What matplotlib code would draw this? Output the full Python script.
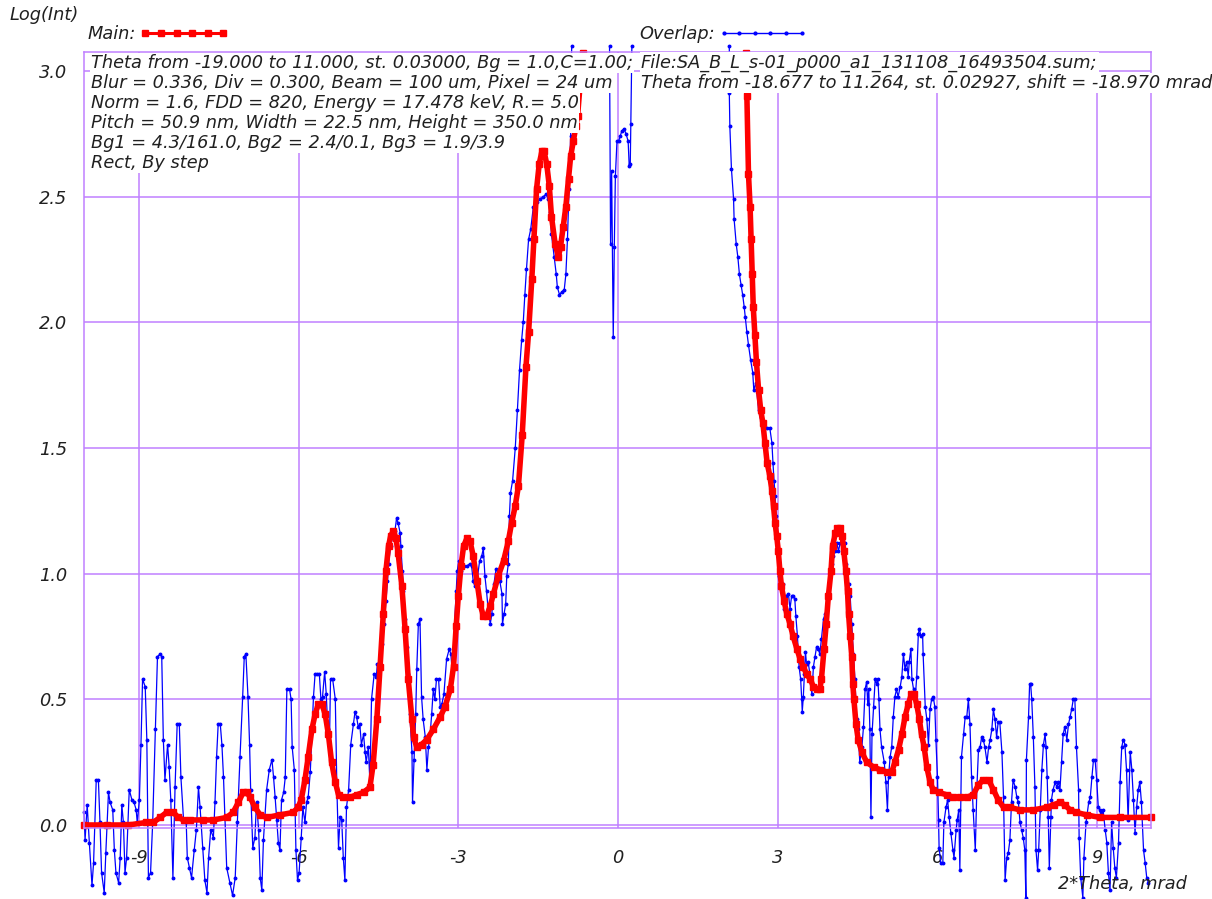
import numpy as np
import matplotlib
matplotlib.use('Agg')
import matplotlib.pyplot as plt
from matplotlib.lines import Line2D
from matplotlib.ticker import FormatStrFormatter

nan = np.nan

# Main (model) curve: 2*Theta [mrad] vs Log(Int); nan = hidden above the frame
main_theta = [
    -10.03, -9.60, -9.20, -8.86, -8.73, -8.60, -8.48, -8.35, -8.26, -8.16,
    -8.04, -7.80, -7.60, -7.35, -7.23, -7.13, -7.04, -6.97, -6.91, -6.82,
    -6.72, -6.60, -6.35, -6.10, -6.01, -5.95, -5.88, -5.82, -5.75, -5.69,
    -5.63, -5.56, -5.50, -5.44, -5.38, -5.31, -5.25, -5.16, -5.03, -4.91,
    -4.78, -4.66, -4.60, -4.53, -4.47, -4.41, -4.36, -4.31, -4.27, -4.22,
    -4.17, -4.13, -4.06, -4.00, -3.94, -3.87, -3.84, -3.78, -3.69, -3.59,
    -3.47, -3.34, -3.25, -3.15, -3.09, -3.04, -3.00, -2.95, -2.90, -2.84,
    -2.78, -2.72, -2.65, -2.59, -2.53, -2.47, -2.40, -2.34, -2.25, -2.15,
    -2.06, -2.00, -1.93, -1.87, -1.80, -1.73, -1.68, -1.62, -1.58, -1.53,
    -1.48, -1.43, -1.39, -1.34, -1.29, -1.25, -1.18, -1.12, -1.08, -1.03,
    -0.98, -0.93, -0.89, -0.84, -0.79, -0.76, -0.71, -0.66, nan, 2.41,
    2.42, 2.45, 2.48, 2.50, 2.52, 2.54, 2.57, 2.60, 2.64, 2.68,
    2.72, 2.76, 2.80, 2.85, 2.89, 2.92, 2.95, 2.98, 3.01, 3.04,
    3.07, 3.12, 3.17, 3.23, 3.29, 3.36, 3.42, 3.48, 3.54, 3.61,
    3.67, 3.73, 3.79, 3.82, 3.87, 3.91, 3.95, 4.00, 4.03, 4.08,
    4.12, 4.17, 4.21, 4.24, 4.28, 4.31, 4.33, 4.36, 4.39, 4.41,
    4.43, 4.47, 4.51, 4.58, 4.67, 4.80, 4.92, 5.05, 5.14, 5.20,
    5.27, 5.33, 5.39, 5.45, 5.51, 5.56, 5.61, 5.66, 5.70, 5.75,
    5.80, 5.86, 5.92, 6.02, 6.17, 6.30, 6.42, 6.55, 6.67, 6.77,
    6.86, 6.96, 7.05, 7.14, 7.24, 7.36, 7.55, 7.80, 8.05, 8.18,
    8.30, 8.39, 8.49, 8.61, 8.80, 9.05, 9.43, 10.01,
]
main_logint = [
    0.00, 0.00, 0.00, 0.01, 0.01, 0.03, 0.05, 0.05, 0.03, 0.02,
    0.02, 0.02, 0.02, 0.03, 0.05, 0.09, 0.13, 0.13, 0.11, 0.07,
    0.04, 0.03, 0.04, 0.05, 0.07, 0.10, 0.18, 0.27, 0.38, 0.44,
    0.48, 0.48, 0.44, 0.36, 0.25, 0.17, 0.12, 0.11, 0.11, 0.12,
    0.13, 0.15, 0.24, 0.42, 0.63, 0.84, 1.01, 1.11, 1.15, 1.17,
    1.14, 1.08, 0.95, 0.78, 0.58, 0.42, 0.35, 0.31, 0.32, 0.34,
    0.38, 0.43, 0.47, 0.54, 0.63, 0.79, 0.91, 1.03, 1.11, 1.14,
    1.13, 1.07, 0.97, 0.88, 0.83, 0.83, 0.87, 0.92, 0.99, 1.05,
    1.13, 1.20, 1.27, 1.35, 1.55, 1.82, 1.96, 2.17, 2.33, 2.53,
    2.63, 2.68, 2.68, 2.63, 2.54, 2.42, 2.31, 2.26, 2.30, 2.38,
    2.46, 2.57, 2.66, 2.72, 2.78, 2.82, 2.95, 3.07, nan, 3.07,
    2.90, 2.59, 2.46, 2.33, 2.19, 2.06, 1.95, 1.84, 1.73, 1.65,
    1.60, 1.52, 1.44, 1.39, 1.33, 1.27, 1.20, 1.15, 1.09, 1.01,
    0.95, 0.89, 0.84, 0.80, 0.75, 0.70, 0.66, 0.63, 0.60, 0.58,
    0.55, 0.54, 0.54, 0.58, 0.70, 0.80, 0.91, 1.01, 1.11, 1.16,
    1.18, 1.18, 1.15, 1.09, 1.01, 0.93, 0.84, 0.75, 0.67, 0.56,
    0.50, 0.40, 0.34, 0.29, 0.25, 0.23, 0.22, 0.21, 0.21, 0.25,
    0.30, 0.36, 0.43, 0.48, 0.52, 0.52, 0.48, 0.42, 0.36, 0.31,
    0.23, 0.17, 0.14, 0.13, 0.12, 0.11, 0.11, 0.11, 0.12, 0.16,
    0.18, 0.18, 0.14, 0.10, 0.07, 0.07, 0.06, 0.06, 0.07, 0.08,
    0.09, 0.08, 0.06, 0.05, 0.04, 0.03, 0.03, 0.03,
]

# Overlap (measured) curve
overlap_theta = [
    -10.03, -10.01, -9.97, -9.93, -9.88, -9.85, -9.80, -9.76, -9.73, -9.70,
    -9.65, -9.62, -9.57, -9.54, -9.49, -9.46, -9.43, -9.38, -9.35, -9.32,
    -9.29, -9.26, -9.23, -9.18, -9.13, -9.09, -9.05, -9.03, -8.99, -8.96,
    -8.93, -8.88, -8.85, -8.82, -8.78, -8.74, -8.69, -8.65, -8.60, -8.57,
    -8.54, -8.51, -8.46, -8.43, -8.40, -8.36, -8.32, -8.28, -8.24, -8.21,
    -8.16, -8.11, -8.09, -8.05, -8.01, -7.96, -7.92, -7.88, -7.85, -7.80,
    -7.76, -7.72, -7.69, -7.65, -7.60, -7.57, -7.54, -7.51, -7.47, -7.44,
    -7.41, -7.35, -7.29, -7.24, -7.19, -7.15, -7.10, -7.05, -7.02, -6.99,
    -6.95, -6.92, -6.90, -6.86, -6.82, -6.79, -6.75, -6.72, -6.69, -6.66,
    -6.60, -6.55, -6.50, -6.47, -6.44, -6.41, -6.38, -6.35, -6.32, -6.28,
    -6.25, -6.22, -6.17, -6.14, -6.12, -6.08, -6.05, -6.02, -5.99, -5.95,
    -5.92, -5.88, -5.85, -5.82, -5.78, -5.72, -5.69, -5.65, -5.61, -5.58,
    -5.55, -5.51, -5.48, -5.45, -5.42, -5.40, -5.36, -5.31, -5.28, -5.25,
    -5.22, -5.19, -5.16, -5.13, -5.10, -5.06, -5.02, -4.97, -4.94, -4.91,
    -4.88, -4.85, -4.82, -4.78, -4.75, -4.73, -4.69, -4.66, -4.63, -4.58,
    -4.54, -4.52, -4.48, -4.44, -4.39, -4.36, -4.33, -4.31, -4.27, -4.23,
    -4.19, -4.16, -4.13, -4.09, -4.08, -4.05, -4.03, -4.00, -3.97, -3.94,
    -3.91, -3.87, -3.86, -3.83, -3.80, -3.78, -3.75, -3.72, -3.69, -3.66,
    -3.62, -3.59, -3.56, -3.53, -3.50, -3.47, -3.44, -3.41, -3.37, -3.34,
    -3.31, -3.27, -3.22, -3.17, -3.14, -3.11, -3.07, -3.04, -3.02, -2.99,
    -2.95, -2.90, -2.84, -2.78, -2.75, -2.72, -2.69, -2.65, -2.60, -2.56,
    -2.53, -2.50, -2.47, -2.44, -2.40, -2.37, -2.33, -2.29, -2.25, -2.22,
    -2.18, -2.17, -2.14, -2.11, -2.09, -2.06, -2.04, -2.02, -1.98, -1.93,
    -1.89, -1.85, -1.81, -1.78, -1.75, -1.72, -1.68, -1.64, -1.59, -1.53,
    -1.46, -1.40, -1.35, -1.31, -1.28, -1.25, -1.20, -1.16, -1.14, -1.10,
    -1.06, -1.01, -0.98, -0.95, -0.92, -0.89, -0.87, nan, -0.16, -0.14,
    -0.12, -0.09, -0.07, -0.05, -0.02, 0.01, 0.04, 0.07, 0.11, 0.15,
    0.19, 0.21, 0.23, 0.24, 0.26, nan, 2.09, 2.09, 2.10, 2.13,
    2.17, 2.18, 2.22, 2.25, 2.28, 2.31, 2.34, 2.37, 2.39, 2.42,
    2.45, 2.49, 2.53, 2.55, 2.59, 2.64, 2.70, 2.73, 2.79, 2.85,
    2.89, 2.91, 2.93, 2.95, 2.97, 3.00, 3.01, 3.03, 3.06, 3.09,
    3.12, 3.16, 3.20, 3.23, 3.26, 3.29, 3.32, 3.34, 3.37, 3.40,
    3.43, 3.45, 3.46, 3.48, 3.50, 3.52, 3.54, 3.57, 3.61, 3.64,
    3.67, 3.70, 3.73, 3.76, 3.79, 3.82, 3.86, 3.89, 3.92, 3.95,
    3.98, 4.01, 4.04, 4.08, 4.11, 4.14, 4.17, 4.20, 4.23, 4.26,
    4.29, 4.33, 4.36, 4.39, 4.42, 4.45, 4.48, 4.51, 4.54, 4.58,
    4.61, 4.64, 4.67, 4.69, 4.71, 4.73, 4.75, 4.77, 4.80, 4.83,
    4.86, 4.88, 4.90, 4.92, 4.95, 5.00, 5.03, 5.06, 5.08, 5.11,
    5.14, 5.17, 5.20, 5.23, 5.26, 5.30, 5.33, 5.36, 5.39, 5.42,
    5.45, 5.47, 5.50, 5.52, 5.55, 5.58, 5.61, 5.64, 5.66, 5.69,
    5.72, 5.73, 5.77, 5.80, 5.83, 5.86, 5.89, 5.92, 5.95, 5.97,
    6.00, 6.02, 6.03, 6.06, 6.10, 6.12, 6.16, 6.19, 6.22, 6.25,
    6.29, 6.31, 6.35, 6.37, 6.40, 6.42, 6.45, 6.49, 6.52, 6.55,
    6.58, 6.61, 6.64, 6.67, 6.71, 6.74, 6.77, 6.80, 6.83, 6.86,
    6.89, 6.93, 6.96, 6.99, 7.02, 7.05, 7.08, 7.11, 7.14, 7.17,
    7.21, 7.24, 7.27, 7.30, 7.33, 7.36, 7.39, 7.42, 7.46, 7.49,
    7.52, 7.55, 7.58, 7.61, 7.64, 7.66, 7.67, 7.71, 7.73, 7.75,
    7.77, 7.80, 7.83, 7.85, 7.88, 7.90, 7.93, 7.96, 7.99, 8.02,
    8.04, 8.06, 8.08, 8.10, 8.13, 8.14, 8.17, 8.21, 8.24, 8.27,
    8.30, 8.33, 8.36, 8.39, 8.43, 8.46, 8.49, 8.52, 8.55, 8.58,
    8.61, 8.65, 8.66, 8.69, 8.73, 8.75, 8.79, 8.84, 8.87, 8.90,
    8.93, 8.96, 8.99, 9.02, 9.05, 9.08, 9.11, 9.15, 9.18, 9.21,
    9.24, 9.27, 9.30, 9.33, 9.36, 9.40, 9.43, 9.46, 9.49, 9.52,
    9.55, 9.58, 9.62, 9.65, 9.68, 9.71, 9.74, 9.77, 9.80, 9.83,
    9.87, 9.90, 9.93, 9.96,
]
overlap_logint = [
    0.05, -0.06, 0.08, -0.07, -0.24, -0.15, 0.18, 0.18, 0.01, -0.19,
    -0.27, -0.11, 0.13, 0.09, 0.06, -0.10, -0.19, -0.23, -0.13, 0.08,
    0.01, -0.19, -0.13, 0.14, 0.10, 0.09, 0.06, 0.01, 0.10, 0.32,
    0.58, 0.55, 0.34, -0.21, -0.19, 0.01, 0.38, 0.67, 0.68, 0.67,
    0.34, 0.18, 0.32, 0.23, 0.10, -0.21, 0.15, 0.40, 0.40, 0.19,
    0.02, 0.01, -0.13, -0.17, -0.21, -0.10, -0.02, 0.15, 0.07, -0.09,
    -0.22, -0.27, -0.13, -0.02, -0.05, 0.09, 0.27, 0.40, 0.40, 0.32,
    0.19, -0.17, -0.23, -0.28, -0.21, 0.01, 0.27, 0.51, 0.67, 0.68,
    0.51, 0.32, 0.14, -0.09, -0.05, 0.09, -0.02, -0.21, -0.26, -0.06,
    0.14, 0.22, 0.26, 0.19, 0.11, 0.02, -0.07, -0.10, 0.10, 0.13,
    0.19, 0.54, 0.54, 0.50, 0.31, 0.22, -0.10, -0.22, -0.19, -0.05,
    0.07, 0.01, 0.09, 0.11, 0.21, 0.51, 0.60, 0.60, 0.60, 0.50,
    0.51, 0.61, 0.52, 0.38, 0.32, 0.58, 0.58, 0.50, 0.14, -0.09,
    0.03, 0.02, -0.13, -0.22, 0.07, 0.14, 0.32, 0.40, 0.45, 0.43,
    0.39, 0.40, 0.32, 0.36, 0.29, 0.25, 0.31, 0.17, 0.50, 0.60,
    0.59, 0.64, 0.65, 0.72, 0.80, 0.89, 0.97, 1.04, 1.11, 1.15,
    1.17, 1.22, 1.20, 1.16, 1.11, 1.01, 0.93, 0.82, 0.71, 0.60,
    0.44, 0.29, 0.09, 0.26, 0.44, 0.62, 0.80, 0.82, 0.51, 0.42,
    0.35, 0.22, 0.31, 0.36, 0.44, 0.54, 0.50, 0.58, 0.58, 0.47,
    0.48, 0.52, 0.66, 0.70, 0.68, 0.60, 0.80, 0.93, 1.01, 1.05,
    1.01, 1.03, 1.03, 1.04, 1.03, 0.97, 0.95, 0.97, 1.05, 1.07,
    1.10, 0.99, 0.93, 0.86, 0.80, 0.84, 0.96, 1.02, 1.01, 0.97,
    0.92, 0.80, 0.84, 0.88, 0.99, 1.04, 1.23, 1.32, 1.37, 1.50,
    1.65, 1.81, 1.93, 2.00, 2.11, 2.21, 2.33, 2.37, 2.46, 2.48,
    2.49, 2.50, 2.51, 2.49, 2.44, 2.35, 2.26, 2.19, 2.14, 2.11,
    2.12, 2.13, 2.19, 2.33, 2.53, 2.74, 3.10, nan, 3.10, 2.31,
    2.60, 1.94, 2.30, 2.58, 2.72, 2.72, 2.74, 2.76, 2.77, 2.75,
    2.72, 2.62, 2.63, 2.79, 3.10, nan, 3.10, 2.91, 2.78, 2.61,
    2.49, 2.41, 2.31, 2.26, 2.19, 2.15, 2.11, 2.06, 2.02, 1.96,
    1.91, 1.85, 1.80, 1.73, 1.76, 1.65, 1.59, 1.58, 1.58, 1.58,
    1.52, 1.44, 1.37, 1.31, 1.23, 1.15, 1.07, 0.99, 1.01, 0.96,
    0.86, 0.91, 0.92, 0.86, 0.91, 0.91, 0.90, 0.83, 0.75, 0.63,
    0.58, 0.50, 0.45, 0.51, 0.60, 0.69, 0.64, 0.65, 0.59, 0.52,
    0.63, 0.67, 0.71, 0.70, 0.68, 0.74, 0.82, 0.84, 0.87, 0.90,
    1.01, 1.04, 1.07, 1.09, 1.12, 1.09, 1.12, 1.13, 1.15, 1.12,
    1.04, 0.96, 0.91, 0.80, 0.68, 0.58, 0.42, 0.38, 0.25, 0.31,
    0.39, 0.54, 0.57, 0.48, 0.54, 0.38, 0.03, 0.36, 0.47, 0.58,
    0.56, 0.58, 0.50, 0.38, 0.31, 0.25, 0.17, 0.06, 0.19, 0.27,
    0.31, 0.43, 0.51, 0.54, 0.51, 0.55, 0.59, 0.68, 0.62, 0.65,
    0.59, 0.65, 0.70, 0.58, 0.54, 0.50, 0.59, 0.76, 0.78, 0.75,
    0.76, 0.68, 0.47, 0.42, 0.32, 0.46, 0.50, 0.51, 0.47, 0.34,
    0.19, 0.02, -0.09, -0.15, -0.15, 0.01, 0.07, 0.10, 0.03, -0.03,
    -0.10, -0.13, -0.02, 0.02, 0.06, -0.18, 0.27, 0.36, 0.43, 0.43,
    0.50, 0.40, 0.19, 0.06, -0.10, 0.15, 0.30, 0.31, 0.35, 0.34,
    0.31, 0.25, 0.31, 0.34, 0.38, 0.46, 0.42, 0.35, 0.41, 0.41,
    0.29, 0.11, -0.22, -0.13, -0.11, -0.06, 0.09, 0.18, 0.15, 0.11,
    0.09, 0.01, -0.02, -0.05, -0.10, -0.29, 0.26, 0.43, 0.56, 0.56,
    0.50, 0.35, 0.15, -0.10, -0.18, -0.10, 0.06, 0.22, 0.32, 0.36,
    0.31, 0.19, 0.03, -0.17, 0.03, 0.10, 0.14, 0.17, 0.15, 0.17,
    0.14, 0.25, 0.36, 0.39, 0.34, 0.40, 0.43, 0.46, 0.50, 0.50,
    0.31, 0.14, -0.05, -0.21, -0.29, -0.13, 0.01, 0.09, 0.11, 0.19,
    0.26, 0.26, 0.18, 0.07, 0.06, 0.05, 0.06, -0.02, -0.07, -0.19,
    -0.26, 0.01, -0.09, -0.17, -0.21, -0.07, 0.17, 0.31, 0.34, 0.32,
    0.22, 0.02, 0.29, 0.22, 0.10, -0.03, 0.07, 0.14, 0.17, 0.09,
    -0.10, -0.15, -0.21, -0.23,
]

x_ticks = [-9, -6, -3, 0, 3, 6, 9]
y_ticks = [0.0, 0.5, 1.0, 1.5, 2.0, 2.5, 3.0]

info_left = [
    "Theta from -19.000 to 11.000, st. 0.03000, Bg = 1.0,C=1.00;",
    "Blur = 0.336, Div = 0.300, Beam = 100 um, Pixel = 24 um",
    "Norm = 1.6, FDD = 820, Energy = 17.478 keV, R.= 5.0",
    "Pitch = 50.9 nm, Width = 22.5 nm, Height = 350.0 nm",
    "Bg1 = 4.3/161.0, Bg2 = 2.4/0.1, Bg3 = 1.9/3.9",
    "Rect, By step",
]
info_right = [
    "File:SA_B_L_s-01_p000_a1_131108_16493504.sum;",
    "Theta from -18.677 to 11.264, st. 0.02927, shift = -18.970 mrad",
]

plt.rcParams['font.family'] = ['DejaVu Sans']
plt.rcParams['font.style'] = 'italic'
plt.rcParams['axes.unicode_minus'] = False

GRID = '#c080ff'
TXT = '#202020'
RED = '#ff0000'
BLUE = '#0000ff'
FS = 12.8
W, H = 1212, 899

fig = plt.figure(figsize=(W / 100, H / 100), dpi=100)
ax = fig.add_axes([84 / W, 1 - 828 / H, 1067 / W, 776 / H])
ax.set_xlim(-10.03, 10.01)
ax.set_ylim(-0.012, 3.075)
ax.set_xticks(x_ticks)
ax.set_yticks(y_ticks)
ax.yaxis.set_major_formatter(FormatStrFormatter('%.1f'))
ax.tick_params(length=0, labelsize=FS, labelcolor=TXT)
ax.tick_params(axis='x', pad=15)
ax.tick_params(axis='y', pad=12)
ax.grid(True, color=GRID, lw=1.1)
ax.set_axisbelow(True)
for s in ax.spines.values():
    s.set_color(GRID)
    s.set_linewidth(1.1)

ax.plot(overlap_theta, overlap_logint, color=BLUE, lw=0.9,
        marker='o', ms=1.8, clip_on=False, zorder=2)
ax.plot(main_theta, main_logint, color=RED, lw=4.0,
        marker='s', ms=5.0, clip_on=False, zorder=2.5)

# parameter blocks (white boxes hide grid and curves behind them)
for i, line in enumerate(info_left):
    fig.text(91 / W, 1 - (63 + 20 * i) / H, line, ha='left', va='center',
             fontsize=FS, color=TXT, zorder=5,
             bbox=dict(fc='white', ec='none', pad=1))
for i, line in enumerate(info_right):
    fig.text(641 / W, 1 - (63 + 20 * i) / H, line, ha='left', va='center',
             fontsize=FS, color=TXT, zorder=5,
             bbox=dict(fc='white', ec='none', pad=1))

fig.text(10 / W, 1 - 15 / H, 'Log(Int)', ha='left', va='center',
         fontsize=FS, color=TXT)
fig.text(1187 / W, 1 - 884 / H, '2*Theta, mrad', ha='right', va='center',
         fontsize=FS, color=TXT)

# legend samples drawn the way the program shows them (thin line + marks)
main_key = Line2D([], [], color=RED, lw=2.2, marker='s', ms=4.5)
overlap_key = Line2D([], [], color=BLUE, lw=1.0, marker='o', ms=2.0)
fig.legend([main_key], ['Main:'], loc='center left',
           bbox_to_anchor=(88 / W, 1 - 34 / H), markerfirst=False,
           frameon=False, borderpad=0, borderaxespad=0, handlelength=5.0,
           handletextpad=0.2, numpoints=6, fontsize=FS, labelcolor=TXT)
fig.legend([overlap_key], ['Overlap:'], loc='center left',
           bbox_to_anchor=(639 / W, 1 - 34 / H), markerfirst=False,
           frameon=False, borderpad=0, borderaxespad=0, handlelength=5.0,
           handletextpad=0.2, numpoints=6, fontsize=FS, labelcolor=TXT)

fig.savefig('out.png', dpi=100, facecolor='white')
